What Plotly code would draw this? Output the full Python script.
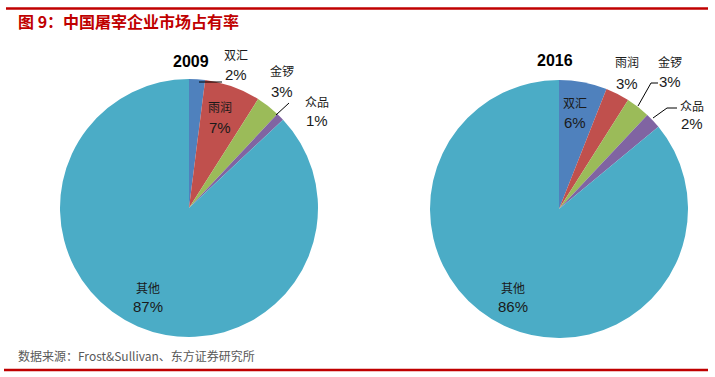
import plotly.graph_objects as go

W, H = 715, 377

companies = ["双汇", "雨润", "金锣", "众品", "其他"]
years = ["2009", "2016"]
share_2009 = [2, 7, 3, 1, 87]
share_2016 = [6, 3, 3, 2, 86]
colors = ["#4F81BD", "#C0504D", "#9BBB59", "#8064A2", "#4BACC6"]

title_text = "图 9：中国屠宰企业市场占有率"
source_text = "数据来源：Frost&Sullivan、东方证券研究所"


def px(x):
    return x / W


def py(y):
    return 1 - y / H


fig = go.Figure()

domains = [
    dict(x=[px(60), px(318)], y=[py(337), py(79)]),
    dict(x=[px(430), px(688)], y=[py(338), py(80)]),
]
for vals, dom, yr in zip([share_2009, share_2016], domains, years):
    fig.add_trace(go.Pie(
        labels=companies, values=vals, sort=False, direction="clockwise",
        rotation=0, marker=dict(colors=colors, line=dict(width=0)),
        textinfo="none", hoverinfo="label+percent", domain=dom, showlegend=False,
        name=yr,
    ))

# label positions (pixel coords of label centers): x, name line y, percent line y
label_pos_2009 = [(236, 55, 74), (220, 107, 127), (282, 71, 92), (317, 101, 120), (148, 287, 306)]
label_pos_2016 = [(575, 103, 122), (627, 62, 83), (670, 61, 82), (692, 105, 124), (513, 287, 306)]


def ann(x, y, text, font, xanchor="center"):
    return dict(x=px(x), y=py(y), xref="paper", yref="paper", xanchor=xanchor,
                yanchor="middle", text=text, showarrow=False, font=font)


annotations = []
for vals, pos in [(share_2009, label_pos_2009), (share_2016, label_pos_2016)]:
    for name, v, (x, y1, y2) in zip(companies, vals, pos):
        annotations.append(ann(x, y1, name, dict(family="Noto Sans CJK SC", size=12, color="#1a1a1a")))
        annotations.append(ann(x, y2, f"{v}%", dict(family="Liberation Sans", size=15, color="#1a1a1a")))

for yr, (x, y) in zip(years, [(191, 62), (555, 60)]):
    annotations.append(ann(x, y, f"<b>{yr}</b>", dict(family="Liberation Sans", size=16, color="black")))

annotations.append(ann(16, 21, f"<b>{title_text}</b>",
                       dict(family="Noto Sans CJK SC", size=16, color="#C00000"), xanchor="left"))
annotations.append(ann(16, 355, source_text,
                       dict(family="Noto Sans CJK SC", size=12, color="#595959"), xanchor="left"))

shapes = [
    dict(type="line", xref="paper", yref="paper", x0=px(6), x1=px(708), y0=py(8.5), y1=py(8.5),
         line=dict(color="#C00000", width=2.5)),
    dict(type="line", xref="paper", yref="paper", x0=px(4), x1=px(708), y0=py(370), y1=py(370),
         line=dict(color="#C00000", width=2.5)),
]
leaders = [
    [(199, 82), (222, 82)],
    [(276, 115), (289, 103)],
    [(638, 106), (651, 83), (658, 83)],
    [(653, 118), (667, 108), (677, 108)],
]
for pts in leaders:
    path = "M " + " L ".join(f"{px(a)} {py(b)}" for a, b in pts)
    shapes.append(dict(type="path", xref="paper", yref="paper", path=path,
                       line=dict(color="black", width=1)))

fig.update_layout(
    width=W, height=H, margin=dict(l=0, r=0, t=0, b=0),
    paper_bgcolor="white", plot_bgcolor="white",
    annotations=annotations, shapes=shapes,
)

fig.write_html("out.html", config={"displayModeBar": False},
               post_script="document.body.style.margin='0';document.body.style.overflow='hidden';")
